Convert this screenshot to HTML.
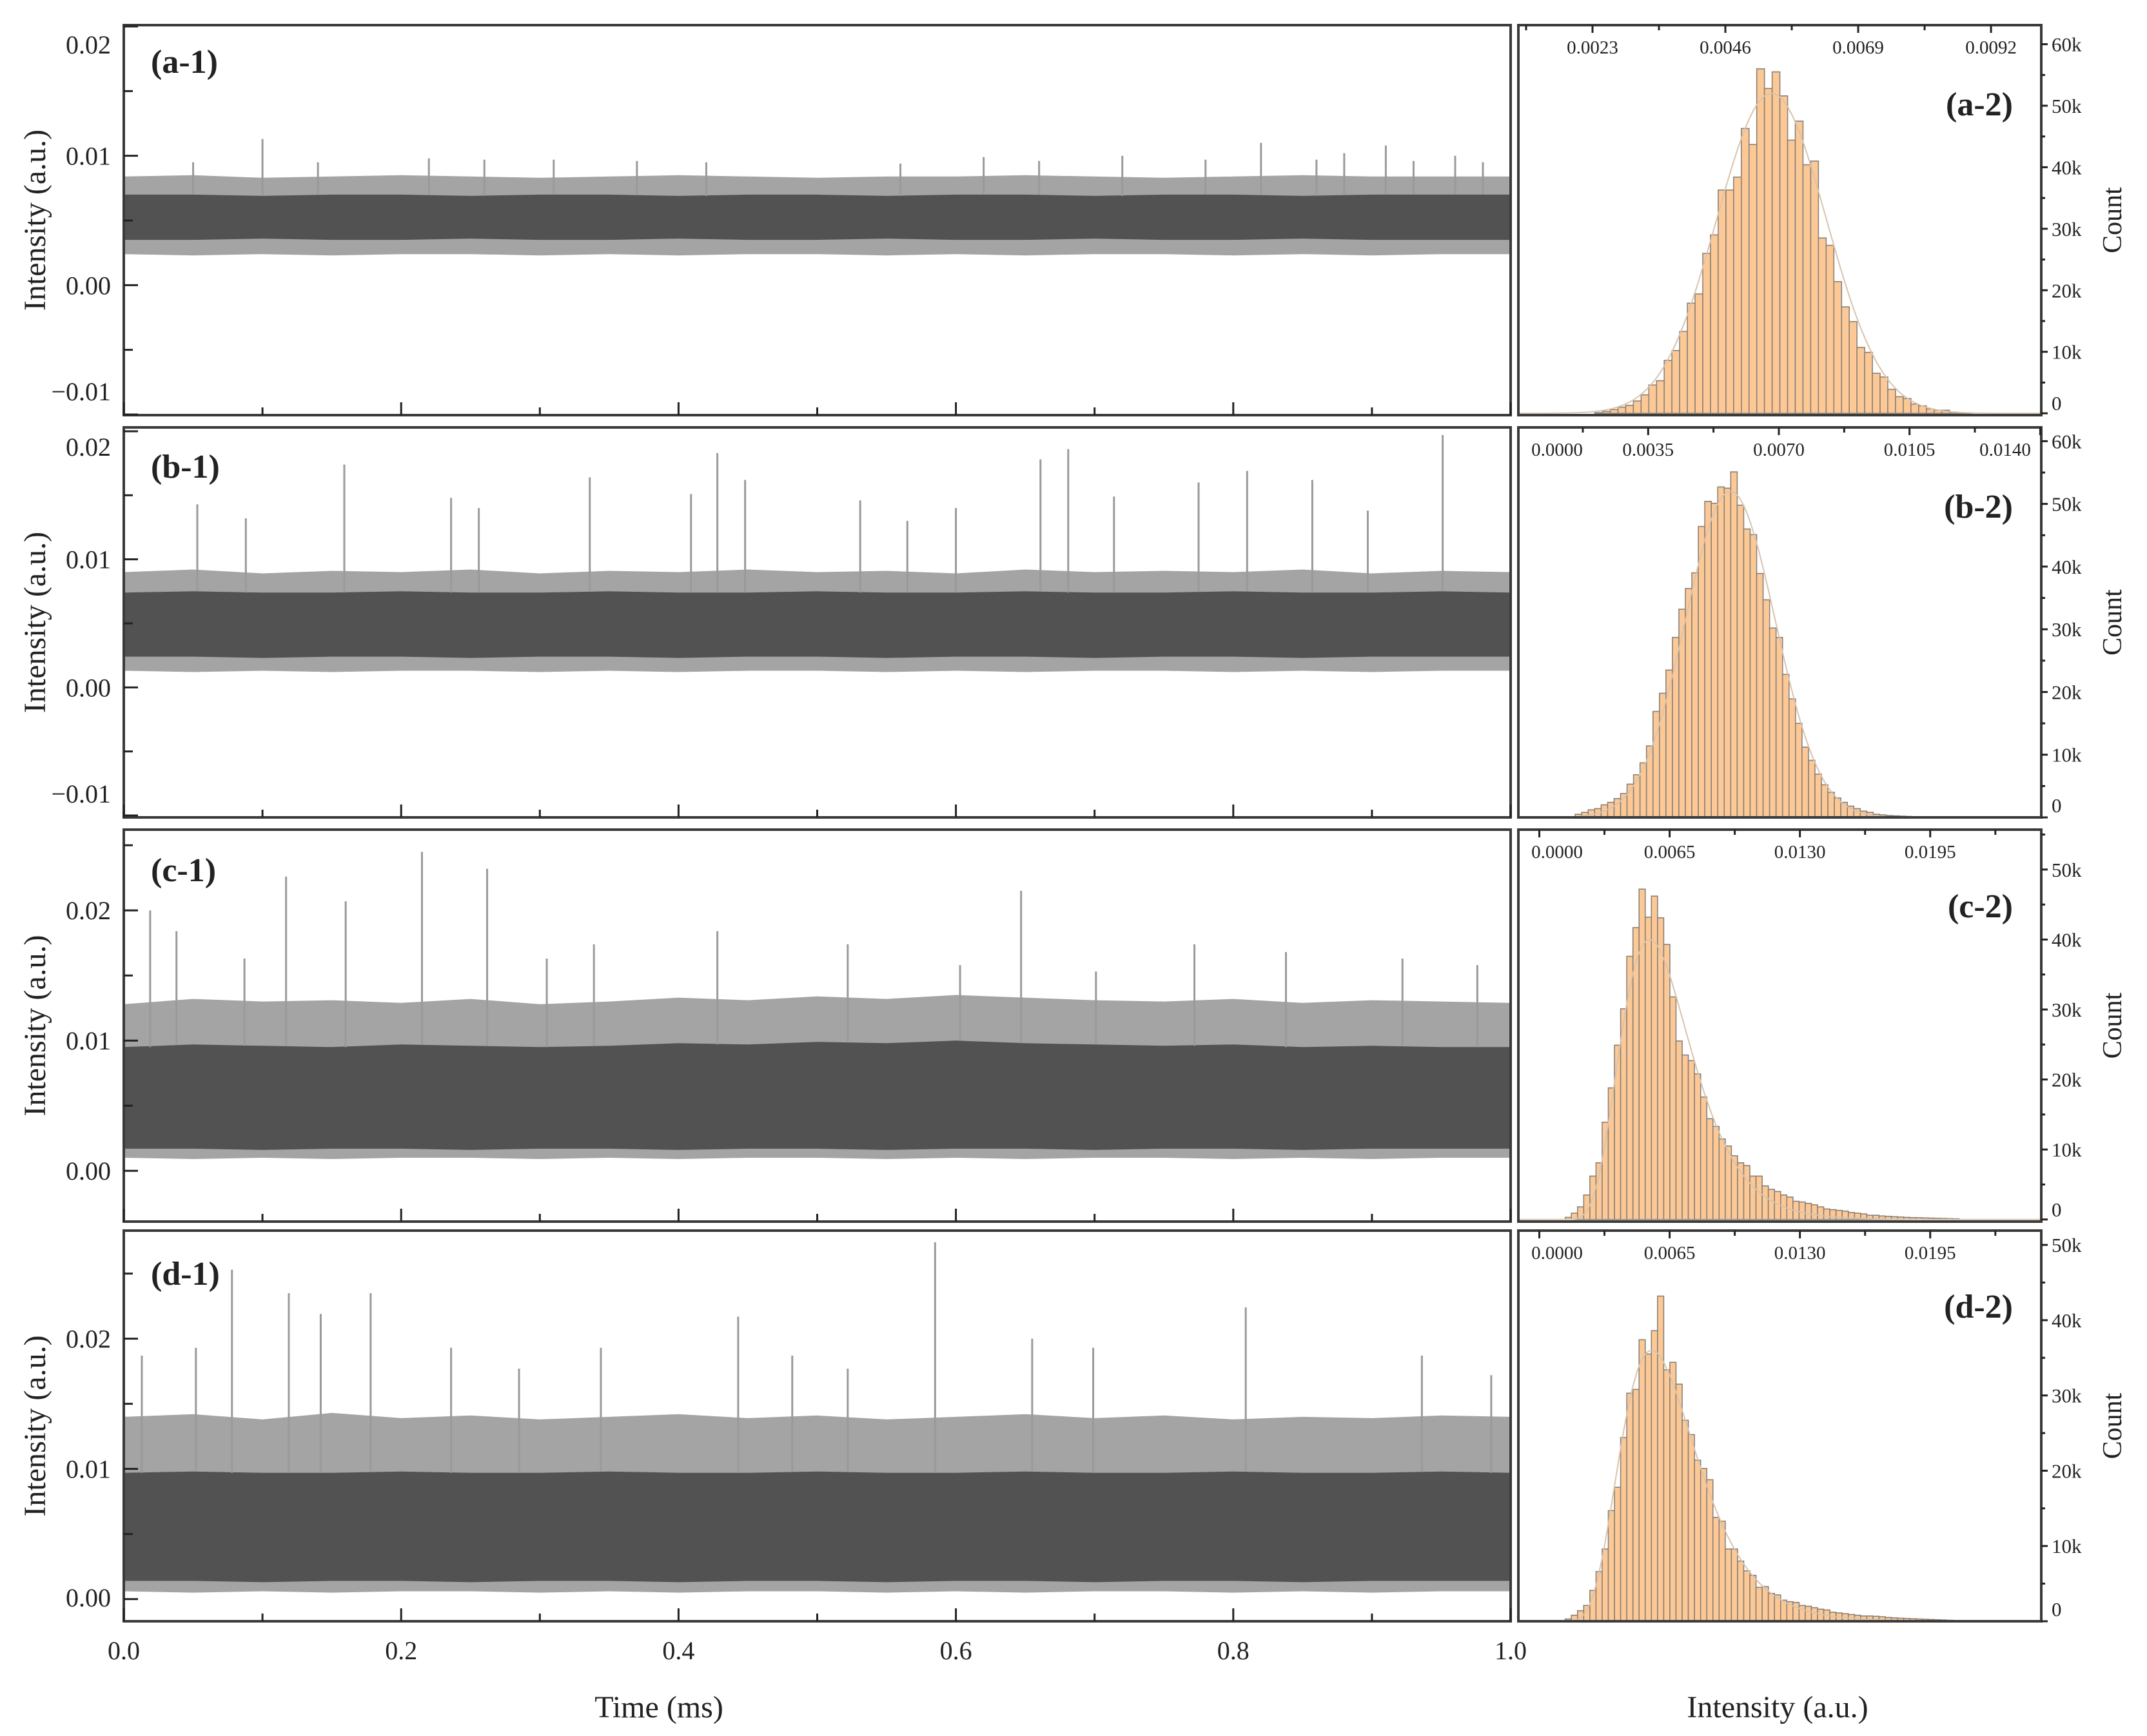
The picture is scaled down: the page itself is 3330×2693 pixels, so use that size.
<!DOCTYPE html>
<html><head><meta charset="utf-8">
<style>
html,body{margin:0;padding:0;background:#fff;}
svg{display:block;}
text{font-family:"Liberation Serif",serif;fill:#222;}
</style></head>
<body>
<svg id="fig" width="3330" height="2693" viewBox="0 0 3330 2693" xmlns="http://www.w3.org/2000/svg"></svg>
<script>
// ---------- DATA ----------
const timeTicks = [0.0,0.2,0.4,0.6,0.8,1.0];
const timeTickLabels = ["0.0","0.2","0.4","0.6","0.8","1.0"];
const aFringeTop = [0.0084,0.0085,0.0083,0.0084,0.0085,0.0084,0.0083,0.0084,0.0085,0.0084,0.0083,0.0084,0.0084,0.0085,0.0084,0.0083,0.0084,0.0085,0.0084,0.0084,0.0084];
const aCoreTop   = [0.0070,0.0070,0.0069,0.0070,0.0070,0.0069,0.0070,0.0070,0.0069,0.0070,0.0070,0.0069,0.0070,0.0070,0.0069,0.0070,0.0070,0.0069,0.0070,0.0070,0.0070];
const aCoreBot   = [0.0035,0.0035,0.0036,0.0035,0.0035,0.0036,0.0035,0.0035,0.0036,0.0035,0.0035,0.0036,0.0035,0.0035,0.0036,0.0035,0.0035,0.0036,0.0035,0.0035,0.0035];
const aFringeBot = [0.0024,0.0023,0.0024,0.0023,0.0024,0.0024,0.0023,0.0024,0.0023,0.0024,0.0024,0.0023,0.0024,0.0023,0.0024,0.0024,0.0023,0.0024,0.0023,0.0024,0.0024];
const aSpikeT = [0.05,0.10,0.14,0.22,0.26,0.31,0.37,0.42,0.56,0.62,0.66,0.72,0.78,0.82,0.86,0.88,0.91,0.93,0.96,0.98];
const aSpikeV = [0.0095,0.0113,0.0095,0.0098,0.0097,0.0097,0.0096,0.0095,0.0094,0.0099,0.0096,0.0100,0.0097,0.0110,0.0097,0.0102,0.0108,0.0096,0.0100,0.0095];

const bFringeTop = [0.0090,0.0092,0.0089,0.0091,0.0090,0.0092,0.0089,0.0091,0.0090,0.0092,0.0090,0.0091,0.0089,0.0092,0.0090,0.0091,0.0090,0.0092,0.0089,0.0091,0.0090];
const bCoreTop   = [0.0074,0.0075,0.0074,0.0074,0.0075,0.0074,0.0074,0.0075,0.0074,0.0074,0.0075,0.0074,0.0074,0.0075,0.0074,0.0074,0.0075,0.0074,0.0074,0.0075,0.0074];
const bCoreBot   = [0.0024,0.0024,0.0023,0.0024,0.0024,0.0023,0.0024,0.0024,0.0023,0.0024,0.0024,0.0023,0.0024,0.0024,0.0023,0.0024,0.0024,0.0023,0.0024,0.0024,0.0024];
const bFringeBot = [0.0013,0.0012,0.0013,0.0012,0.0013,0.0013,0.0012,0.0013,0.0012,0.0013,0.0013,0.0012,0.0013,0.0012,0.0013,0.0013,0.0012,0.0013,0.0012,0.0013,0.0013];
const bSpikeT = [0.053,0.088,0.159,0.236,0.256,0.336,0.409,0.428,0.448,0.531,0.565,0.600,0.661,0.681,0.714,0.775,0.810,0.857,0.897,0.951];
const bSpikeV = [0.0143,0.0132,0.0174,0.0148,0.0140,0.0164,0.0151,0.0183,0.0162,0.0146,0.0130,0.0140,0.0178,0.0186,0.0149,0.0160,0.0169,0.0162,0.0138,0.0197];

const cFringeTop = [0.0128,0.0132,0.0130,0.0131,0.0129,0.0132,0.0128,0.0130,0.0133,0.0131,0.0134,0.0132,0.0135,0.0133,0.0131,0.0130,0.0132,0.0129,0.0131,0.0130,0.0129];
const cCoreTop   = [0.0095,0.0097,0.0096,0.0095,0.0097,0.0096,0.0095,0.0096,0.0098,0.0097,0.0099,0.0098,0.0100,0.0098,0.0097,0.0096,0.0097,0.0095,0.0096,0.0095,0.0095];
const cCoreBot   = [0.0017,0.0017,0.0016,0.0017,0.0017,0.0016,0.0017,0.0017,0.0016,0.0017,0.0017,0.0016,0.0017,0.0017,0.0016,0.0017,0.0017,0.0016,0.0017,0.0017,0.0017];
const cFringeBot = [0.0010,0.0009,0.0010,0.0009,0.0010,0.0010,0.0009,0.0010,0.0009,0.0010,0.0010,0.0009,0.0010,0.0009,0.0010,0.0010,0.0009,0.0010,0.0009,0.0010,0.0010];
const cSpikeT = [0.019,0.038,0.087,0.117,0.160,0.215,0.262,0.305,0.339,0.428,0.522,0.603,0.647,0.701,0.772,0.838,0.922,0.976];
const cSpikeV = [0.0200,0.0184,0.0163,0.0226,0.0207,0.0245,0.0232,0.0163,0.0174,0.0184,0.0174,0.0158,0.0215,0.0153,0.0174,0.0168,0.0163,0.0158];

const dFringeTop = [0.0140,0.0142,0.0138,0.0143,0.0139,0.0141,0.0138,0.0140,0.0142,0.0139,0.0141,0.0138,0.0140,0.0142,0.0139,0.0141,0.0138,0.0140,0.0139,0.0141,0.0140];
const dCoreTop   = [0.0097,0.0098,0.0097,0.0097,0.0098,0.0097,0.0097,0.0098,0.0097,0.0097,0.0098,0.0097,0.0097,0.0098,0.0097,0.0097,0.0098,0.0097,0.0097,0.0098,0.0097];
const dCoreBot   = [0.0014,0.0014,0.0013,0.0014,0.0014,0.0013,0.0014,0.0014,0.0013,0.0014,0.0014,0.0013,0.0014,0.0014,0.0013,0.0014,0.0014,0.0013,0.0014,0.0014,0.0014];
const dFringeBot = [0.0006,0.0005,0.0006,0.0005,0.0006,0.0006,0.0005,0.0006,0.0005,0.0006,0.0006,0.0005,0.0006,0.0005,0.0006,0.0006,0.0005,0.0006,0.0005,0.0006,0.0006];
const dSpikeT = [0.013,0.052,0.078,0.119,0.142,0.178,0.236,0.285,0.344,0.443,0.482,0.522,0.585,0.655,0.699,0.809,0.936,0.986];
const dSpikeV = [0.0187,0.0193,0.0253,0.0235,0.0219,0.0235,0.0193,0.0177,0.0193,0.0217,0.0187,0.0177,0.0274,0.0200,0.0193,0.0224,0.0187,0.0172];

const aCounts = [0.1,0.3,0.6,1,1.3,2,3,4.6,5.3,8.6,10.2,13.3,17.9,19.4,26,29,36.3,36.3,38.4,46.3,43.7,56,52.8,55.5,51.6,44.4,47.5,40.4,41,28.5,27.3,21.4,17.3,14.9,10.7,9.9,6.5,5.9,3.9,2.7,2.4,1.5,1.2,0.7,0.5,0.5,0.2,0.1,0.05];
const bCounts = [0.5,0.8,1.2,1.4,2,2.4,3,3.8,5.3,6.8,8.7,11.4,16.9,19.8,23.5,28.7,33.2,36.5,39,46.4,50.4,50.1,52.7,52.5,55.1,49.8,46,45.1,38.9,34.7,30.2,28.7,22.8,18.9,15,11.2,9.1,6.9,5.2,4,3.1,2.4,1.8,1.4,1,0.8,0.5,0.4,0.3,0.25,0.2,0.15,0.1];
const cCounts = [0.3,0.9,1.8,3.5,6.2,8.1,13.9,18.8,24.9,30.1,37.6,41.7,47.2,43.2,46.2,43.1,39.3,31.8,25.5,23.5,22.7,20.8,17.5,14.4,13.3,11.5,10.5,9.1,8.1,7.7,6.2,6.2,4.8,4.3,4.0,3.5,3.2,2.6,2.5,2.3,2.1,1.8,1.5,1.4,1.3,1.2,1.0,0.9,0.8,0.6,0.6,0.5,0.45,0.4,0.35,0.3,0.27,0.25,0.22,0.2,0.17,0.15,0.12,0.1];
const dCounts = [0.3,0.8,1.4,2.1,4.1,6.6,9.6,14.7,17.8,24.4,30.3,30.8,37.4,35.5,38.6,43.2,33.4,34.4,31.5,26.7,24.8,21.4,20.3,18.8,13.8,13.3,9.6,9.6,8,6.7,6.1,4.5,4.6,3.7,3.5,2.8,2.6,2.5,2.1,2.0,1.8,1.6,1.5,1.2,1.1,1.0,0.9,0.8,0.7,0.7,0.66,0.6,0.5,0.45,0.4,0.37,0.33,0.3,0.27,0.23,0.2,0.17,0.13,0.1];
const aBin = [0.00234, 0.0001335];
const bBin = [0.001547, 0.0001735];
const cBin = [0.001293, 0.000307];
const dBin = [0.001293, 0.000307];
const aFit = [52, 0.0054, 0.00095];
const bFit = [52, 0.0057, 0.00120];
const cFit = [40, 0.0055, 0.32];
const dFit = [36, 0.0056, 0.34];
const aHistTicks = [0.0023,0.0046,0.0069,0.0092];
const bHistTicks = [0.0000,0.0035,0.0070,0.0105,0.0140];
const cHistTicks = [0.0000,0.0065,0.0130,0.0195];
const dHistTicks = [0.0000,0.0065,0.0130,0.0195];
const countTicksA = [0,10,20,30,40,50,60];
const countTicksC = [0,10,20,30,40,50];

// ---------- RENDER ----------
const NS="http://www.w3.org/2000/svg";
const svg=document.getElementById('fig');
function el(tag,attrs,parent,txt){const e=document.createElementNS(NS,tag);for(const k in attrs)e.setAttribute(k,attrs[k]);if(txt!==undefined)e.textContent=txt;(parent||svg).appendChild(e);return e;}

const L0=192, L1=2343, R0=2355, R1=3166;
const panels=[
 {id:'a',y0:39,y1:644,dom:[-0.01005,0.0201],yt:[-0.01,0.00,0.01,0.02],ytl:["\u22120.01","0.00","0.01","0.02"],
  ft:aFringeTop,ct:aCoreTop,cb:aCoreBot,fb:aFringeBot,st:aSpikeT,sv:aSpikeV,
  counts:aCounts,bin:aBin,fit:aFit,fitType:'g',hx:[0.001016,0.01007],ht:aHistTicks,cd:[-0.3,63.1],ct2:countTicksA},
 {id:'b',y0:663,y1:1268,dom:[-0.01015,0.0203],yt:[-0.01,0.00,0.01,0.02],ytl:["\u22120.01","0.00","0.01","0.02"],
  ft:bFringeTop,ct:bCoreTop,cb:bCoreBot,fb:bFringeBot,st:bSpikeT,sv:bSpikeV,
  counts:bCounts,bin:bBin,fit:bFit,fitType:'g',hx:[0.000024,0.014028],ht:bHistTicks,cd:[0,62.2],ct2:countTicksA},
 {id:'c',y0:1287,y1:1895,dom:[-0.0039,0.0262],yt:[0.00,0.01,0.02],ytl:["0.00","0.01","0.02"],
  ft:cFringeTop,ct:cCoreTop,cb:cCoreBot,fb:cFringeBot,st:cSpikeT,sv:cSpikeV,
  counts:cCounts,bin:cBin,fit:cFit,fitType:'l',hx:[-0.001045,0.02504],ht:cHistTicks,cd:[-0.3,55.7],ct2:countTicksC},
 {id:'d',y0:1909,y1:2515,dom:[-0.0017,0.0283],yt:[0.00,0.01,0.02],ytl:["0.00","0.01","0.02"],
  ft:dFringeTop,ct:dCoreTop,cb:dCoreBot,fb:dFringeBot,st:dSpikeT,sv:dSpikeV,
  counts:dCounts,bin:dBin,fit:dFit,fitType:'l',hx:[-0.001045,0.02504],ht:dHistTicks,cd:[0,51.9],ct2:countTicksC}
];

panels.forEach((p,pi)=>{
  const g=el('g',{});
  
  
  const X=t=>L0+(t)*(L1-L0);
  const Y=v=>p.y1-(v-p.dom[0])/(p.dom[1]-p.dom[0])*(p.y1-p.y0);
  const n=p.ft.length;
  const tAt=i=>i/(n-1);
  function poly(top,bot,fill,name){
    let pts=[];
    for(let i=0;i<n;i++)pts.push(X(tAt(i)).toFixed(1)+','+Y(top[i]).toFixed(1));
    for(let i=n-1;i>=0;i--)pts.push(X(tAt(i)).toFixed(1)+','+Y(bot[i]).toFixed(1));
    const e=el('polygon',{points:pts.join(' '),fill:fill},g);
    
    
  }
  poly(p.ft,p.fb,'#a4a4a4','signal-fringe-'+p.id);
  poly(p.ct,p.cb,'#525252','signal-core-'+p.id);
  p.st.forEach((t,i)=>{
    const ln=el('line',{x1:X(t),x2:X(t),y1:Y(p.ct[Math.round(t*(n-1))]),y2:Y(p.sv[i]),stroke:'#9a9a9a','stroke-width':3},g);
    
    
  });
  const fr=el('rect',{x:L0,y:p.y0,width:L1-L0,height:p.y1-p.y0,fill:'none',stroke:'#3a3a3a','stroke-width':4},g);
  
  
  const step=0.005;
  for(let v=Math.ceil(p.dom[0]/step)*step; v<=p.dom[1]+1e-9; v+=step){
    const major=Math.abs(Math.round(v/0.01)*0.01-v)<1e-9;
    el('line',{x1:L0,x2:L0+(major?22:14),y1:Y(v),y2:Y(v),stroke:'#222','stroke-width':3},g);
  }
  p.yt.forEach((v,i)=>{
    const cy=Math.max(p.y0+30,Math.min(p.y1-37,Y(v)));
    const tx=el('text',{x:172,y:cy+14,'text-anchor':'end','font-size':40},g,p.ytl[i]);
    
    
  });
  for(let k=0;k<=10;k++){
    const major=k%2===0;
    el('line',{x1:X(k/10),x2:X(k/10),y1:p.y1,y2:p.y1-(major?20:12),stroke:'#222','stroke-width':3},g);
  }
  const yl=el('text',{x:0,y:0,'text-anchor':'middle','font-size':48,transform:`translate(70,${(p.y0+p.y1)/2}) rotate(-90)`},g,'Intensity (a.u.)');
  
  
  const lab1=el('text',{x:234,y:p.y0+(pi===0?74:pi===1?78:pi===2?80:84),'font-size':52,'font-weight':'bold'},g,'('+p.id+'-1)');
  
  

  const h=el('g',{});
  
  
  const HX=v=>R0+(v-p.hx[0])/(p.hx[1]-p.hx[0])*(R1-R0);
  const HY=c=>p.y1-(c-p.cd[0])/(p.cd[1]-p.cd[0])*(p.y1-p.y0);
  p.counts.forEach((c,i)=>{
    const v0=p.bin[0]+i*p.bin[1];
    const x0=HX(v0), x1=HX(v0+p.bin[1]);
    const r=el('rect',{x:x0,y:HY(c),width:x1-x0,height:HY(0)-HY(c),fill:'#fcc996',stroke:'#8a8078','stroke-width':1.6},h);
    
    
  });
  let d='';
  for(let k=0;k<=200;k++){
    const v=p.hx[0]+(p.hx[1]-p.hx[0])*k/200;
    let c;
    if(p.fitType==='g') c=p.fit[0]*Math.exp(-Math.pow(v-p.fit[1],2)/(2*p.fit[2]*p.fit[2]));
    else c=v<=0?0:p.fit[0]*Math.exp(-Math.pow(Math.log(v/p.fit[1]),2)/(2*p.fit[2]*p.fit[2]));
    d+=(k?'L':'M')+HX(v).toFixed(1)+','+HY(Math.max(c,0)).toFixed(1);
  }
  const fc=el('path',{d:d,fill:'none',stroke:'#d9c3ad','stroke-width':2},h);
  
  
  const fr2=el('rect',{x:R0,y:p.y0,width:R1-R0,height:p.y1-p.y0,fill:'none',stroke:'#3a3a3a','stroke-width':4},h);
  
  
  const hs=(p.ht[1]-p.ht[0])/2;
  for(let v=p.ht[0]-hs*Math.floor((p.ht[0]-p.hx[0])/hs); v<=p.hx[1]; v+=hs){
    if(v<p.hx[0])continue;
    const major=Math.abs(((v-p.ht[0])/(2*hs))-Math.round((v-p.ht[0])/(2*hs)))<1e-6;
    el('line',{x1:HX(v),x2:HX(v),y1:p.y0,y2:p.y0+(major?12:8),stroke:'#222','stroke-width':3},h);
  }
  p.ht.forEach(v=>{
    let x=HX(v);
    x=Math.max(R0+60,Math.min(R1-56,x));
    const tx=el('text',{x:x,y:p.y0+44,'text-anchor':'middle','font-size':29},h,v.toFixed(4));
    
    
  });
  for(let c=0;c<=p.cd[1];c+=5){
    const major=c%10===0;
    el('line',{x1:R1,x2:R1+(major?10:6),y1:HY(c),y2:HY(c),stroke:'#222','stroke-width':3},h);
  }
  p.ct2.forEach(c=>{
    const y=HY(c)+11;
    const tx=el('text',{x:R1+16,y:c===0?p.y1-8:y,'font-size':31},h,c===0?'0':c+'k');
    
    
  });
  const ct=el('text',{x:0,y:0,'text-anchor':'middle','font-size':42,transform:`translate(3290,${(p.y0+p.y1)/2}) rotate(-90)`},h,'Count');
  
  
  const lab2=el('text',{x:3122,y:p.y0+(pi===0?140:pi===1?140:pi===2?136:135),'text-anchor':'end','font-size':52,'font-weight':'bold'},h,'('+p.id+'-2)');
  
  
});

timeTicks.forEach((t,i)=>{
  const tx=el('text',{x:L0+t*(L1-L0),y:2574,'text-anchor':'middle','font-size':40},svg,timeTickLabels[i]);
  
  
});
const xt=el('text',{x:1022,y:2664,'text-anchor':'middle','font-size':48},svg,'Time (ms)');


const xt2=el('text',{x:2757,y:2664,'text-anchor':'middle','font-size':48},svg,'Intensity (a.u.)');


</script>
</body></html>
